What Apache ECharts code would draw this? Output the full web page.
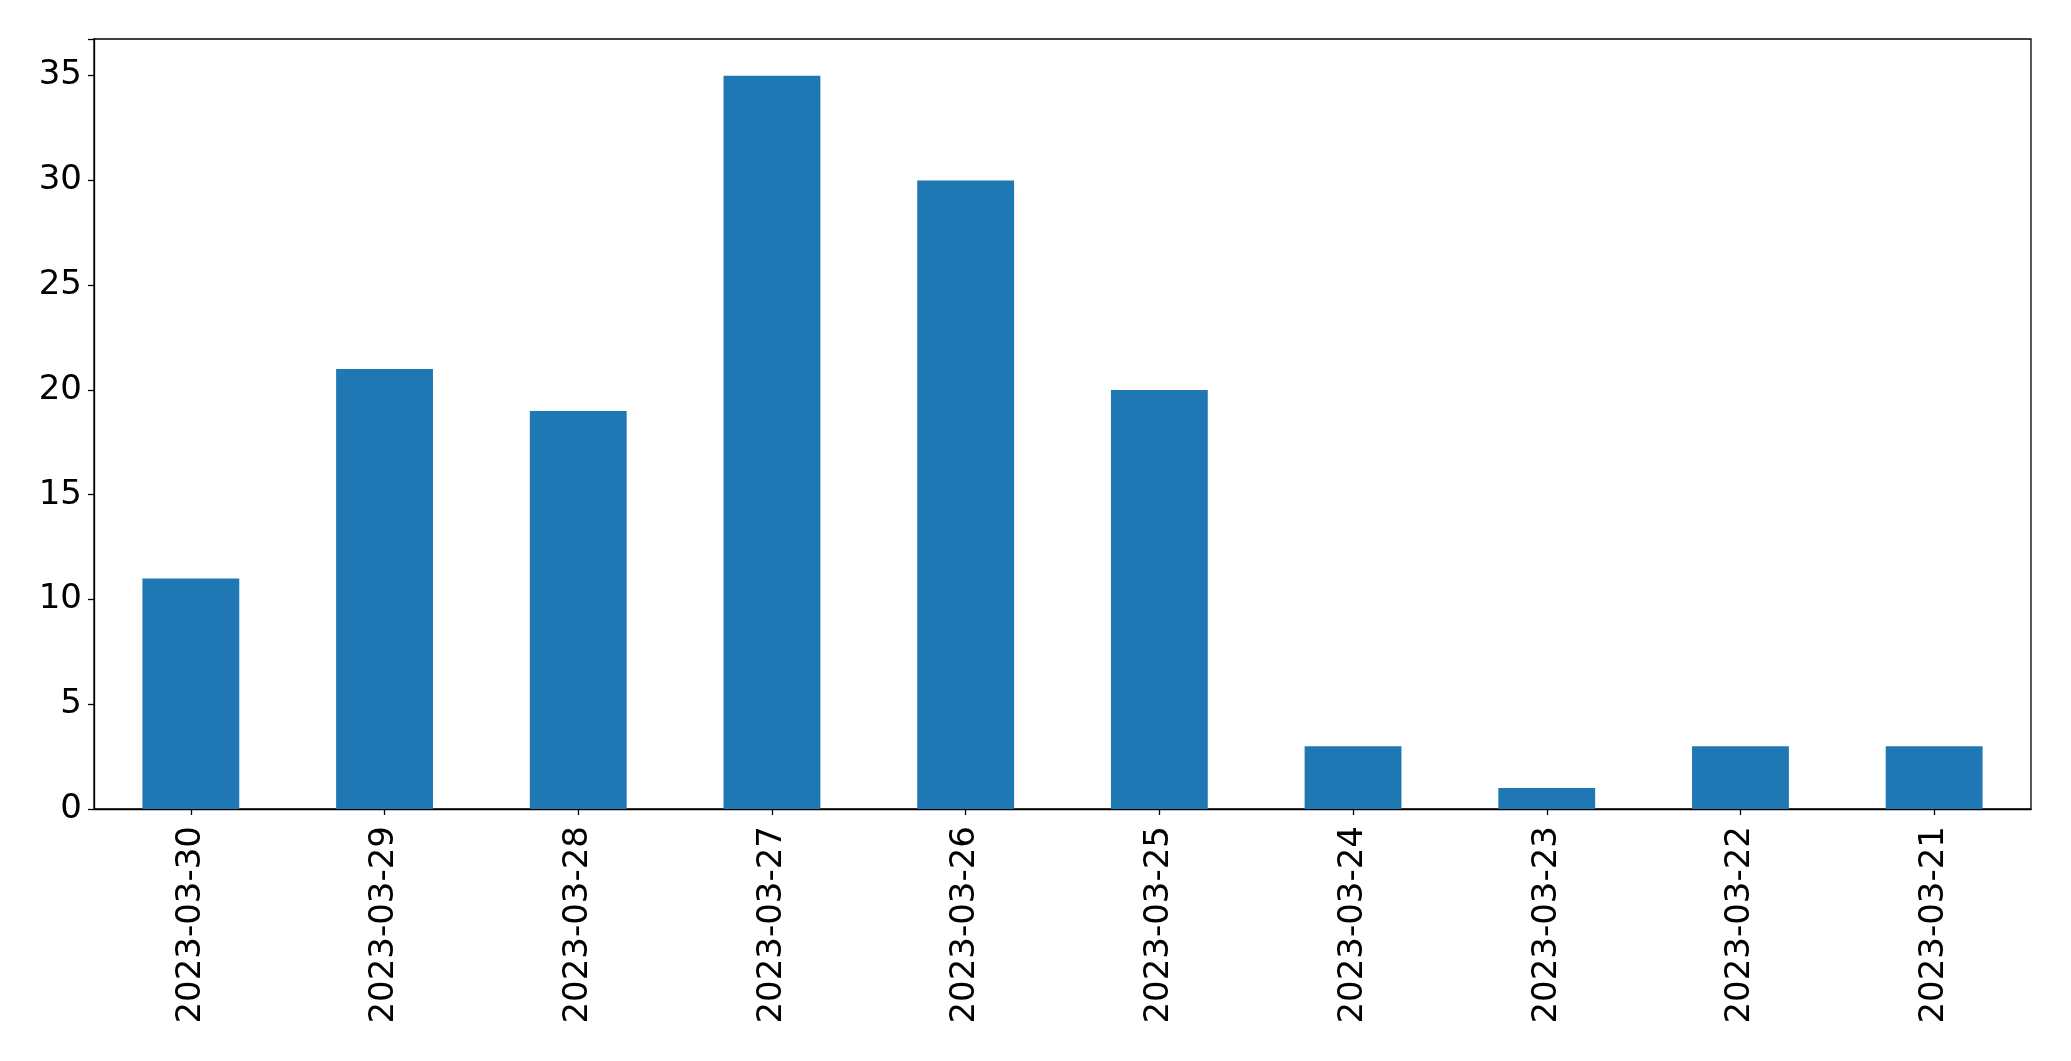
<!DOCTYPE html>
<html>
<head>
<meta charset="utf-8">
<script src="https://cdn.jsdelivr.net/npm/echarts@6/dist/echarts.min.js"></script>
<style>
html,body{margin:0;padding:0;background:#fff;}
#chart{width:2071px;height:1061px;}
</style>
</head>
<body>
<div id="chart"></div>
<script>
const categories = ['2023-03-30','2023-03-29','2023-03-28','2023-03-27','2023-03-26','2023-03-25','2023-03-24','2023-03-23','2023-03-22','2023-03-21'];
const values = [11, 21, 19, 35, 30, 20, 3, 1, 3, 3];
const yTicks = [0, 5, 10, 15, 20, 25, 30, 35];

const chart = echarts.init(document.getElementById('chart'), null, {renderer: 'canvas'});
const font = 'DejaVu Sans';
chart.setOption({
  animation: false,
  backgroundColor: '#ffffff',
  grid: {left: 94, right: 40, top: 39, bottom: 252, show: true, borderColor: '#000', borderWidth: 1.3, backgroundColor: 'transparent'},
  xAxis: {
    type: 'category',
    data: categories,
    boundaryGap: true,
    axisLine: {show: true, lineStyle: {color: '#000', width: 1.3}},
    axisTick: {show: true, alignWithLabel: true, length: 6, lineStyle: {color: '#000', width: 1.3}},
    axisLabel: {rotate: 90, margin: 17, fontSize: 34, fontFamily: font, color: '#000', interval: 0},
    splitLine: {show: false}
  },
  yAxis: {
    type: 'value',
    min: 0,
    max: 36.75,
    interval: 5,
    axisLine: {show: true, lineStyle: {color: '#000', width: 1.3}},
    axisTick: {show: true, length: 6, lineStyle: {color: '#000', width: 1.3}},
    axisLabel: {margin: 12, fontSize: 34, fontFamily: font, color: '#000',
      formatter: v => yTicks.includes(v) ? String(v) : ''},
    splitLine: {show: false}
  },
  series: [{
    type: 'bar',
    data: values,
    barWidth: '50%',
    itemStyle: {color: '#1f77b4'}
  }]
});
</script>
</body>
</html>
